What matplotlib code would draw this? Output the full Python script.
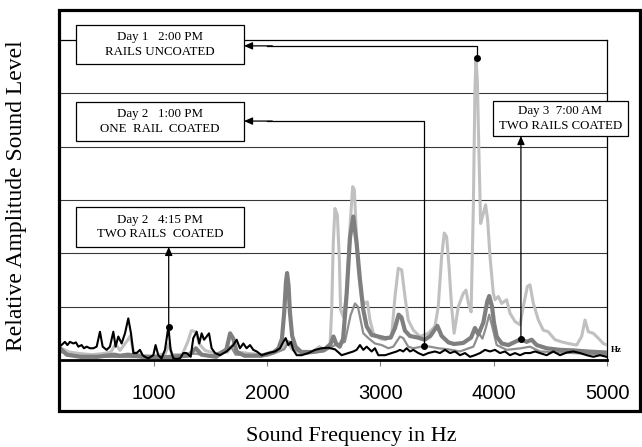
import matplotlib.pyplot as plt
from matplotlib.patches import Rectangle

# --- series (Hz, relative amplitude) ---
day1_hz = [180, 250, 350, 450, 550, 620, 660, 700, 760, 790, 820, 900, 1000, 1100, 1130, 1160,
           1250, 1300, 1330, 1370, 1400, 1450, 1550, 1650, 1700, 1740, 1850, 1950, 2050, 2130,
           2175, 2220, 2300, 2400, 2460, 2500, 2554, 2569, 2583, 2598, 2619, 2637, 2648, 2672,
           2701, 2731, 2754, 2769, 2784, 2804, 2834, 2863, 2884, 2907, 2937, 2996, 3040, 3098,
           3128, 3157, 3187, 3216, 3245, 3290, 3348, 3422, 3481, 3510, 3540, 3563, 3584, 3605,
           3628, 3650, 3687, 3731, 3755, 3776, 3800, 3820, 3834, 3843, 3855, 3870, 3884, 3908,
           3928, 3946, 3967, 3996, 4011, 4040, 4070, 4114, 4143, 4188, 4232, 4261, 4297, 4320,
           4350, 4394, 4437, 4481, 4541, 4600, 4658, 4732, 4776, 4806, 4835, 4879, 4923, 4967,
           5000]
day1_amp = [0.22, 0.15, 0.12, 0.10, 0.12, 0.15, 0.30, 0.18, 0.35, 0.45, 0.15, 0.08, 0.08, 0.12,
            0.30, 0.10, 0.10, 0.35, 0.55, 0.53, 0.30, 0.18, 0.12, 0.15, 0.30, 0.15, 0.12, 0.10,
            0.12, 0.20, 0.35, 0.20, 0.12, 0.15, 0.25, 0.20, 0.25, 0.94, 2.19, 2.84, 2.72, 1.87,
            0.94, 0.81, 1.25, 2.50, 3.25, 3.19, 2.50, 1.69, 1.13, 1.06, 1.09, 0.75, 0.50, 0.40,
            0.38, 0.44, 1.19, 1.72, 1.69, 1.19, 0.75, 0.56, 0.44, 0.50, 0.63, 1.00, 1.94, 2.38,
            2.31, 1.75, 1.00, 0.50, 1.00, 1.25, 1.31, 1.06, 0.90, 2.88, 5.06, 5.66, 5.25, 3.81,
            2.56, 2.75, 2.91, 2.63, 1.94, 1.25, 1.13, 1.19, 1.06, 1.13, 0.88, 0.72, 0.66, 1.00,
            1.38, 1.41, 1.06, 0.75, 0.56, 0.53, 0.38, 0.34, 0.31, 0.28, 0.44, 0.75, 0.53, 0.50,
            0.41, 0.31, 0.28]

day2_1pm_hz = [180, 300, 600, 1000, 1370, 1500, 1680, 1720, 2000, 2150, 2190, 2230, 2350, 2500,
               2598, 2686, 2736, 2775, 2800, 2819, 2848, 2893, 2951, 3011, 3069, 3113, 3172,
               3201, 3245, 3290, 3384, 3437, 3510, 3600, 3700, 3820, 3870, 3900, 3930, 3960,
               3990, 4026, 4114, 4240, 4320, 4408, 4703, 5000]
day2_1pm_amp = [0.15, 0.08, 0.06, 0.05, 0.12, 0.06, 0.25, 0.10, 0.08, 0.20, 0.35, 0.20, 0.12,
                0.16, 0.28, 0.34, 0.84, 1.06, 1.00, 0.81, 0.50, 0.41, 0.31, 0.28, 0.22, 0.25,
                0.44, 0.41, 0.25, 0.22, 0.26, 0.25, 0.22, 0.20, 0.16, 0.25, 0.50, 0.40, 0.60,
                0.85, 0.60, 0.28, 0.19, 0.22, 0.25, 0.16, 0.13, 0.10]

day3_hz = [180, 230, 350, 500, 650, 700, 770, 900, 1100, 1300, 1370, 1420, 1550, 1640, 1672,
           1700, 1730, 1800, 1950, 2060, 2100, 2130, 2150, 2165, 2175, 2188, 2200, 2220, 2250,
           2300, 2400, 2500, 2560, 2585, 2610, 2640, 2670, 2700, 2731, 2760, 2789, 2819, 2848,
           2878, 2922, 2981, 3040, 3090, 3128, 3160, 3185, 3216, 3260, 3330, 3390, 3440, 3502,
           3540, 3600, 3650, 3731, 3800, 3834, 3864, 3908, 3943, 3960, 3985, 4002, 4026, 4070,
           4129, 4188, 4240, 4290, 4335, 4379, 4467, 4585, 4703, 4821, 5000]
day3_amp = [0.20, 0.10, 0.06, 0.06, 0.10, 0.08, 0.10, 0.06, 0.05, 0.08, 0.22, 0.10, 0.06, 0.20,
            0.50, 0.40, 0.15, 0.08, 0.08, 0.15, 0.22, 0.40, 0.90, 1.45, 1.63, 1.40, 0.90, 0.45,
            0.25, 0.15, 0.15, 0.19, 0.30, 0.44, 0.30, 0.25, 0.40, 1.20, 2.30, 2.69, 2.19, 1.50,
            0.94, 0.63, 0.47, 0.44, 0.41, 0.42, 0.60, 0.85, 0.80, 0.55, 0.45, 0.42, 0.38, 0.45,
            0.64, 0.45, 0.33, 0.30, 0.32, 0.42, 0.60, 0.48, 0.70, 1.10, 1.20, 1.00, 0.70, 0.44,
            0.31, 0.28, 0.34, 0.39, 0.34, 0.38, 0.28, 0.22, 0.19, 0.18, 0.16, 0.14]

day2_415_hz = [183, 214, 235, 258, 288, 311, 332, 361, 382, 405, 435, 464, 494, 523, 547, 582,
               611, 641, 661, 685, 714, 744, 773, 797, 818, 847, 876, 900, 920, 950, 994, 1014,
               1038, 1067, 1097, 1127, 1147, 1171, 1200, 1230, 1259, 1289, 1324, 1347, 1377,
               1400, 1421, 1442, 1465, 1486, 1509, 1539, 1583, 1642, 1700, 1730, 1759, 1789,
               1818, 1848, 1877, 1907, 1951, 2010, 2069, 2113, 2142, 2163, 2186, 2210, 2230,
               2260, 2304, 2363, 2422, 2480, 2539, 2598, 2657, 2716, 2760, 2789, 2819, 2848,
               2878, 2922, 2951, 2981, 3040, 3098, 3143, 3172, 3201, 3231, 3260, 3290, 3334,
               3378, 3422, 3481, 3525, 3570, 3614, 3658, 3702, 3746, 3790, 3834, 3879, 3923,
               3967, 4011, 4055, 4099, 4143, 4188, 4232, 4276, 4320, 4364, 4408, 4467, 4526,
               4585, 4644, 4703, 4762, 4821, 4879, 4938, 4997]
day2_415_amp = [0.28, 0.34, 0.28, 0.34, 0.31, 0.33, 0.25, 0.28, 0.22, 0.25, 0.22, 0.22, 0.25,
                0.53, 0.25, 0.19, 0.25, 0.53, 0.25, 0.44, 0.31, 0.50, 0.78, 0.50, 0.13, 0.13,
                0.19, 0.09, 0.06, 0.03, 0.09, 0.28, 0.09, 0.03, 0.19, 0.62, 0.19, 0.03, 0.02,
                0.03, 0.13, 0.13, 0.06, 0.41, 0.53, 0.31, 0.50, 0.38, 0.44, 0.50, 0.22, 0.13,
                0.09, 0.16, 0.28, 0.38, 0.22, 0.31, 0.22, 0.28, 0.19, 0.16, 0.09, 0.13, 0.16,
                0.22, 0.34, 0.41, 0.28, 0.34, 0.19, 0.09, 0.09, 0.13, 0.19, 0.22, 0.23, 0.20,
                0.09, 0.13, 0.16, 0.19, 0.28, 0.19, 0.25, 0.16, 0.22, 0.09, 0.09, 0.13, 0.16,
                0.19, 0.16, 0.22, 0.16, 0.19, 0.13, 0.09, 0.13, 0.16, 0.13, 0.19, 0.13, 0.16,
                0.09, 0.13, 0.06, 0.09, 0.13, 0.19, 0.16, 0.19, 0.13, 0.16, 0.09, 0.13, 0.09,
                0.13, 0.13, 0.16, 0.13, 0.09, 0.16, 0.09, 0.14, 0.16, 0.13, 0.09, 0.06, 0.09,
                0.06]

x_ticks = [1000, 2000, 3000, 4000, 5000]

# callouts: label text, point on the curve (Hz, amp)
labels = ["Day 1   2:00 PM\nRAILS UNCOATED",
          "Day 2   1:00 PM\nONE  RAIL  COATED",
          "Day 2   4:15 PM\nTWO RAILS  COATED",
          "Day 3  7:00 AM\nTWO RAILS COATED"]
dot_hz = [3852, 3384, 1130, 4240]
dot_amp = [5.66, 0.26, 0.62, 0.39]

serif = 'Liberation Serif'

fig = plt.figure(figsize=(6.42, 4.47), dpi=100)
ax = fig.add_axes([61 / 642, 87 / 447, 546 / 642, 320 / 447])

ax.plot(day1_hz, day1_amp, color='#c0c0c0', lw=2.2, zorder=3)
ax.plot(day2_1pm_hz, day2_1pm_amp, color='#8e8e8e', lw=1.6, zorder=4)
ax.plot(day3_hz, day3_amp, color='#7f7f7f', lw=3.0, zorder=5)
ax.plot(day2_415_hz, day2_415_amp, color='black', lw=1.5, zorder=6)

ax.set_xlim(179, 5000)
ax.set_ylim(0, 6)
ax.set_yticks([1, 2, 3, 4, 5])
ax.yaxis.grid(True, color='#383838', lw=0.8)
ax.set_axisbelow(True)
ax.tick_params(axis='y', left=False, labelleft=False)
ax.set_xticks(x_ticks)
ax.set_xticklabels([str(t) for t in x_ticks], family='Liberation Sans', fontsize=14.5)
ax.tick_params(axis='x', direction='out', length=4, width=0.8, color='#808080', pad=13)

for s in ['top', 'right']:
    ax.spines[s].set_linewidth(0.9)
ax.spines['left'].set_visible(False)
ax.spines['bottom'].set_linewidth(2.0)
ax.spines['bottom'].set_zorder(7)

ax.text(1.008, 0.03, 'Hz', transform=ax.transAxes, family=serif, fontsize=6.5,
        fontweight='bold', ha='left', va='center')

# callout boxes in axes fraction (x0, x1, y0, y1)
boxes = [(0.0275, 0.335, 0.925, 1.047),
         (0.0275, 0.335, 0.684, 0.806),
         (0.0275, 0.335, 0.353, 0.478),
         (0.791, 1.038, 0.700, 0.809)]
for (x0, x1, y0, y1), txt in zip(boxes, labels):
    ax.add_patch(Rectangle((x0, y0), x1 - x0, y1 - y0, transform=ax.transAxes,
                           facecolor='white', edgecolor='black', lw=0.9,
                           clip_on=False, zorder=9))
    ax.text((x0 + x1) / 2, (y0 + y1) / 2, txt, transform=ax.transAxes, family=serif,
            fontsize=9.3, ha='center', va='center', linespacing=1.3, zorder=10)

ax.plot(dot_hz, dot_amp, 'o', color='black', ms=4, zorder=8, clip_on=False)

head = dict(arrowstyle='-|>,head_length=0.5,head_width=0.22', color='black', lw=0.9,
            shrinkA=0, shrinkB=0)
box_edge_hz = 1795
# elbow leaders to the two upper-left boxes
for hz, amp, y_turn in [(dot_hz[0], dot_amp[0], 5.89), (dot_hz[1], dot_amp[1], 4.48)]:
    ax.plot([hz, hz, box_edge_hz + 200], [amp, y_turn, y_turn], color='black', lw=0.9,
            zorder=8, clip_on=False)
    ax.annotate('', xy=(box_edge_hz, y_turn), xytext=(box_edge_hz + 250, y_turn),
                arrowprops=head, zorder=8, annotation_clip=False)
# straight leaders up to the lower boxes
ax.annotate('', xy=(dot_hz[2], 2.12), xytext=(dot_hz[2], dot_amp[2]),
            arrowprops=head, zorder=8)
ax.annotate('', xy=(dot_hz[3], 4.2), xytext=(dot_hz[3], dot_amp[3]),
            arrowprops=head, zorder=8)

# outer frame
fig.patches.append(Rectangle((58.5 / 642, 36 / 447), 581 / 642, 401 / 447,
                             transform=fig.transFigure, fill=False,
                             edgecolor='black', lw=2.3))

fig.text(17 / 642, 1 - 196 / 447, 'Relative Amplitude Sound Level', family=serif,
         fontsize=17, rotation=90, ha='center', va='center')
fig.text(351 / 642, 1 - 436 / 447, 'Sound Frequency in Hz', family=serif,
         fontsize=16, ha='center', va='center')

fig.savefig('out.png', dpi=100)
